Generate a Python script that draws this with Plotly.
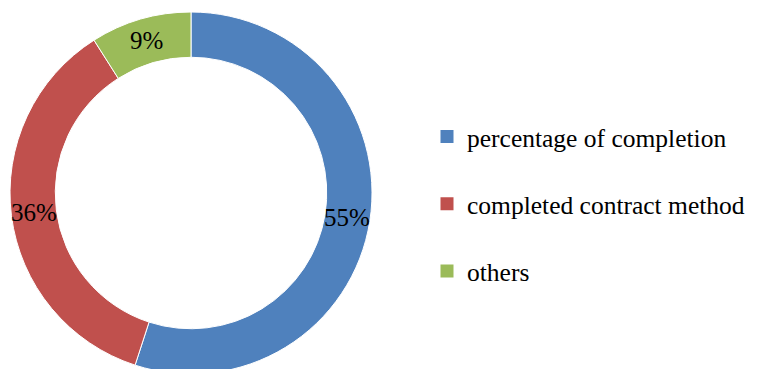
import math
import plotly.graph_objects as go

labels = ["percentage of completion", "completed contract method", "others"]
values = [55, 36, 9]
colors = ["#4F81BD", "#C0504D", "#9BBB59"]

W, H = 758, 369
FONT = "Liberation Serif, Times New Roman, serif"
HOLE = 0.75
# figure sits at an 8px body offset in the page
dx = [2 / W, 364 / W]
dy = [1 - 366 / H, 1 - 4 / H]

fig = go.Figure()
fig.add_trace(go.Pie(
    labels=labels, values=values, hole=HOLE, sort=False, direction="clockwise",
    rotation=0, marker=dict(colors=colors, line=dict(color="white", width=1)),
    textinfo="none",
    domain=dict(x=dx, y=dy),
    showlegend=False,
))

# percentage labels at the middle of each ring segment, derived from the values
cx_px = (dx[0] + dx[1]) / 2 * W
cy_px = (1 - (dy[0] + dy[1]) / 2) * H
R = min((dx[1] - dx[0]) * W, (dy[1] - dy[0]) * H) / 2
rmid = R * (1 + HOLE) / 2
total = sum(values)
cum = 0
for v in values:
    ang = 2 * math.pi * (cum + v / 2) / total
    cum += v
    px = cx_px + rmid * math.sin(ang)
    py = cy_px - rmid * math.cos(ang)
    fig.add_annotation(
        x=px / W, y=1 - py / H, xref="paper", yref="paper",
        text=f"{round(100 * v / total)}%", showarrow=False,
        font=dict(family=FONT, size=25, color="black"),
        xanchor="center", yanchor="middle",
    )

for lab, col in zip(labels, colors):
    fig.add_trace(go.Scatter(
        x=[None], y=[None], mode="markers", name=lab,
        marker=dict(symbol="square", size=13, color=col),
        legendgroup=lab,
    ))
fig.update_layout(
    width=W, height=H, margin=dict(l=0, r=0, t=0, b=0),
    paper_bgcolor="white", plot_bgcolor="white",
    xaxis=dict(visible=False), yaxis=dict(visible=False),
    legend=dict(x=419 / W, xanchor="left", y=1 - 196 / H, yanchor="middle",
                font=dict(family=FONT, size=25.5, color="black"),
                entrywidth=300, entrywidthmode="pixels",
                tracegroupgap=31, traceorder="grouped"),
)
fig.write_html("out.html")
